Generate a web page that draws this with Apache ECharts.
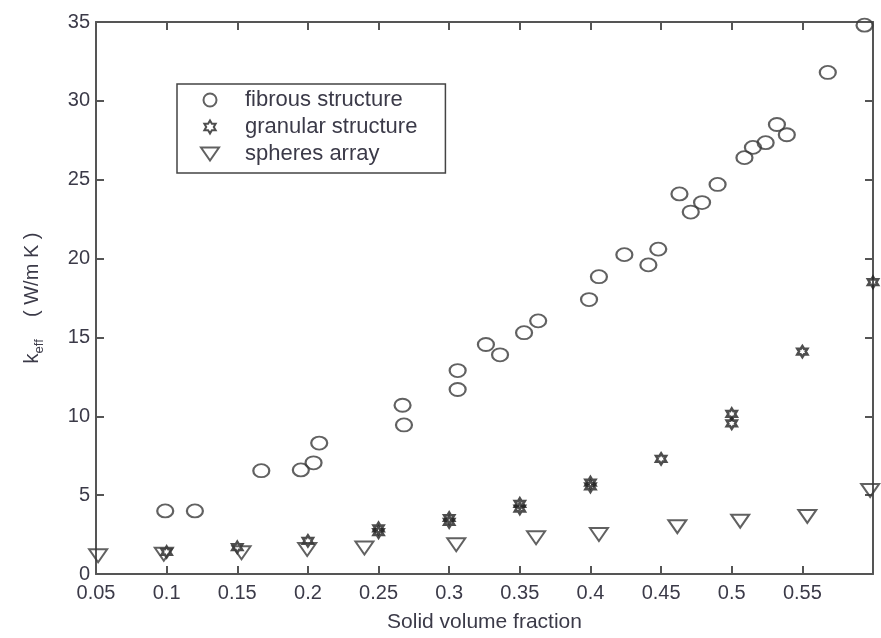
<!DOCTYPE html>
<html>
<head>
<meta charset="utf-8">
<script src="https://cdn.jsdelivr.net/npm/echarts@6/dist/echarts.min.js"></script>
<style>
html,body{margin:0;padding:0;background:#fff;}
#chart{width:881px;height:638px;}
</style>
</head>
<body>
<div id="chart"></div>
<script>
// ---- data ----
const fibrousX = [0.099,0.12,0.167,0.195,0.204,0.208,0.267,0.268,0.306,0.306,0.326,0.336,0.353,0.363,0.399,0.406,0.424,0.441,0.448,0.463,0.471,0.479,0.49,0.509,0.515,0.524,0.532,0.539,0.568,0.594];
const fibrousY = [4.0,4.0,6.55,6.6,7.05,8.3,10.7,9.45,12.9,11.7,14.55,13.9,15.3,16.05,17.4,18.85,20.25,19.6,20.6,24.1,22.95,23.55,24.7,26.4,27.05,27.35,28.5,27.85,31.8,34.8];
const granularX = [0.1,0.15,0.2,0.25,0.25,0.3,0.3,0.35,0.35,0.4,0.4,0.45,0.5,0.5,0.55,0.6];
const granularY = [1.4,1.7,2.1,2.65,2.9,3.3,3.55,4.15,4.45,5.55,5.8,7.3,9.55,10.15,14.1,18.5];
const spheresX = [0.0515,0.098,0.153,0.1995,0.24,0.305,0.3615,0.406,0.4615,0.506,0.5535,0.598];
const spheresY = [1.15,1.25,1.35,1.55,1.65,1.85,2.3,2.5,3.0,3.35,3.65,5.3];
const xTickLabels = ['0.05','0.1','0.15','0.2','0.25','0.3','0.35','0.4','0.45','0.5','0.55'];
const yTickLabels = ['0','5','10','15','20','25','30','35'];
const seriesNames = ['fibrous structure','granular structure','spheres array'];

const zip = (xs, ys) => xs.map((x, i) => [x, ys[i]]);
const ink = '#3a3a3a';
const textColor = '#3b3a48';
const font = 'Liberation Sans, Arial, sans-serif';
const hexStar = 'path://M0,-10L2.9,-5L8.66,-5L5.8,0L8.66,5L2.9,5L0,10L-2.9,5L-8.66,5L-5.8,0L-8.66,-5L-2.9,-5Z';
const downTri = 'path://M0,0L18,0L9,13Z';

const xFmt = v => {
  const idx = Math.round((v - 0.05) / 0.05);
  return xTickLabels[idx] !== undefined ? xTickLabels[idx] : '';
};
const yFmt = v => {
  const idx = Math.round(v / 5);
  return yTickLabels[idx] !== undefined ? yTickLabels[idx] : '';
};

const axisCommon = {
  axisLine: {show: true, onZero: false, lineStyle: {color: '#555', width: 2}},
  axisTick: {show: true, inside: true, length: 8, lineStyle: {color: '#555', width: 2}},
  splitLine: {show: false}
};

const chart = echarts.init(document.getElementById('chart'), null, {renderer: 'canvas'});
chart.setOption({
  animation: false,
  backgroundColor: '#fff',
  textStyle: {fontFamily: font},
  grid: {left: 96, right: 8, top: 22, bottom: 60, containLabel: false},
  legend: {
    orient: 'vertical',
    left: 177, top: 84,
    data: seriesNames,
    itemWidth: 60, itemHeight: 13, itemGap: 5,
    padding: [5, 28, 8, 23],
    borderColor: '#444', borderWidth: 1.5,
    textStyle: {fontSize: 22, color: textColor, fontFamily: font}
  },
  xAxis: [
    Object.assign({
      type: 'value', min: 0.05, max: 0.6, interval: 0.05, position: 'bottom',
      name: 'Solid volume fraction', nameLocation: 'middle', nameGap: 38,
      nameTextStyle: {fontSize: 21, color: textColor, fontFamily: font},
      axisLabel: {show: true, margin: 9, fontSize: 20, color: textColor, fontFamily: font, formatter: xFmt, showMaxLabel: true}
    }, axisCommon),
    Object.assign({
      type: 'value', min: 0.05, max: 0.6, interval: 0.05, position: 'top',
      axisLabel: {show: false}
    }, axisCommon)
  ],
  yAxis: [
    Object.assign({
      type: 'value', min: 0, max: 35, interval: 5, position: 'left',
      name: '{k|k}{sub|eff}{u|    ( W/m K )}', nameLocation: 'middle', nameGap: 50, nameRotate: 90,
      nameTextStyle: {
        color: textColor, fontFamily: font,
        rich: {
          k: {fontSize: 20, lineHeight: 24, verticalAlign: 'top', color: textColor, fontFamily: font},
          sub: {fontSize: 13, lineHeight: 12, padding: [19, 0, 0, 0], verticalAlign: 'bottom', color: textColor, fontFamily: font},
          u: {fontSize: 20, lineHeight: 24, verticalAlign: 'top', color: textColor, fontFamily: font}
        }
      },
      axisLabel: {show: true, margin: 6, fontSize: 20, color: textColor, fontFamily: font, formatter: yFmt}
    }, axisCommon),
    Object.assign({
      type: 'value', min: 0, max: 35, interval: 5, position: 'right',
      axisLabel: {show: false}
    }, axisCommon)
  ],
  series: [
    {
      name: seriesNames[0], type: 'scatter', clip: false,
      data: zip(fibrousX, fibrousY),
      symbol: 'circle', symbolSize: [16, 13],
      itemStyle: {color: 'rgba(255,255,255,0)', borderColor: ink, borderWidth: 2}
    },
    {
      name: seriesNames[1], type: 'scatter', clip: false,
      data: zip(granularX, granularY),
      symbol: hexStar, symbolSize: [10, 11],
      itemStyle: {color: 'rgba(255,255,255,0)', borderColor: '#222', borderWidth: 2.6}
    },
    {
      name: seriesNames[2], type: 'scatter', clip: false,
      data: zip(spheresX, spheresY),
      symbol: downTri, symbolKeepAspect: true, symbolSize: 18,
      itemStyle: {color: 'rgba(255,255,255,0)', borderColor: ink, borderWidth: 2}
    }
  ]
});
</script>
</body>
</html>
